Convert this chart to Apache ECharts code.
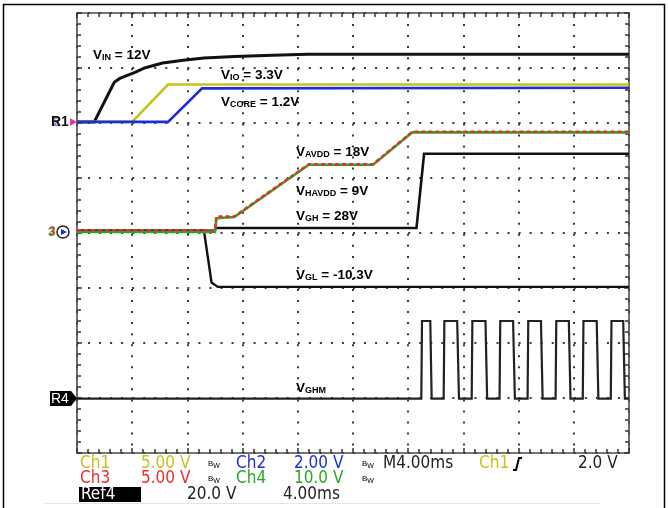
<!DOCTYPE html>
<html><head><meta charset="utf-8">
<script src="https://cdn.jsdelivr.net/npm/echarts@6/dist/echarts.min.js"></script>
<style>html,body{margin:0;padding:0;background:#fff}#c{width:668px;height:508px}</style>
</head><body><div id="c"></div>
<script>
// time in ms (10 div x 4 ms), level in divisions (0..8 from bottom)
const xTicks = [0, 4, 8, 12, 16, 20, 24, 28, 32, 36, 40];
const yTicks = [0, 1, 2, 3, 4, 5, 6, 7, 8];
const vinPts = [[0,6.02],[1.25,6.02],[2.7,6.74],[3.1,6.81],[3.6,6.86],[4.2,6.92],[4.9,7.0],[6.2,7.09],[7.7,7.14],[9.2,7.18],[11.4,7.21],[14.2,7.23],[16.7,7.25],[40,7.25]];
const vioPts = [[0,6.02],[3.99,6.02],[6.6,6.7],[40,6.7]];
const vcorePts = [[0,6.02],[6.6,6.02],[9.06,6.63],[40,6.64]];
const avddPts = [[0,4.02],[10.0,4.02],[10.1,4.27],[11.4,4.29],[16.8,5.24],[21.45,5.24],[24.3,5.83],[40,5.83]];
const havddPts = [[0,4.05],[10.0,4.05],[10.1,4.3],[11.4,4.3],[16.8,5.25],[21.45,5.25],[24.3,5.84],[40,5.84]];
const vghPts = [[0,4.04],[9.9,4.04],[10.1,4.09],[24.6,4.09],[25.15,5.44],[40,5.44]];
const vglPts = [[0,4.04],[9.2,4.04],[9.75,3.1],[10.2,3.02],[40,3.02]];
const vghmLow = 0.99, vghmHigh = 2.4;
const vghmPts = [[0,vghmLow],[24.95,vghmLow],[25.0,vghmHigh],[25.6,vghmHigh],[25.7,vghmLow],
 [26.57,vghmLow],[26.62,vghmHigh],[27.55,vghmHigh],[27.68,vghmLow],
 [28.6,vghmLow],[28.65,vghmHigh],[29.6,vghmHigh],[29.72,vghmLow],
 [30.62,vghmLow],[30.67,vghmHigh],[31.6,vghmHigh],[31.73,vghmLow],
 [32.65,vghmLow],[32.7,vghmHigh],[33.62,vghmHigh],[33.74,vghmLow],
 [34.68,vghmLow],[34.73,vghmHigh],[35.64,vghmHigh],[35.76,vghmLow],
 [36.65,vghmLow],[36.7,vghmHigh],[37.66,vghmHigh],[37.78,vghmLow],
 [38.68,vghmLow],[38.73,vghmHigh],[39.58,vghmHigh],[39.7,vghmLow],[40,vghmLow]];
const traceLabels = [
  {x:93, y:45, t:'{v|V}{s|IN}{v| = 12V}'},
  {x:221, y:65, t:'{v|V}{s|IO}{v| = 3.3V}'},
  {x:221, y:92, t:'{v|V}{s|CORE}{v| = 1.2V}'},
  {x:296, y:142, t:'{v|V}{s|AVDD}{v| = 18V}'},
  {x:296, y:181, t:'{v|V}{s|HAVDD}{v| = 9V}'},
  {x:296, y:206, t:'{v|V}{s|GH}{v| = 28V}'},
  {x:296, y:265, t:'{v|V}{s|GL}{v| = -10.3V}'},
  {x:296, y:378, t:'{v|V}{s|GHM}'}
];
const traceColors = {yellow:'#c8c21a', blue:'#1c2fd6', red:'#ee2b2b', green:'#2aa62a', black:'#111111', dark:'#222222'};
const statusRows = [
  {x:80, y:464, t:'Ch1', c:'yellow'}, {x:141, y:464, t:'5.00 V', c:'yellow'},
  {x:236, y:464, t:'Ch2', c:'blue'}, {x:294, y:464, t:'2.00 V', c:'blue'},
  {x:383, y:464, t:'M4.00ms', c:'dark'}, {x:479, y:464, t:'Ch1', c:'yellow'},
  {x:578, y:464, t:'2.0 V', c:'dark'},
  {x:80, y:479, t:'Ch3', c:'red'}, {x:141, y:479, t:'5.00 V', c:'red'},
  {x:236, y:479, t:'Ch4', c:'green'}, {x:294, y:479, t:'10.0 V', c:'green'},
  {x:187, y:495, t:'20.0 V', c:'dark'}, {x:283, y:495, t:'4.00ms', c:'dark'}
];
const bwMarks = [{x:208,y:464,c:'yellow'},{x:362,y:464,c:'blue'},{x:208,y:479,c:'red'},{x:362,y:479,c:'green'}];

(function(){
  const C = traceColors;
  function gAx(pos, isX, split){
    return {
      type:'value', position:pos, min:0, max:isX?40:8, interval:isX?4:1,
      axisLine:{show:true, onZero:false, lineStyle:{color:'#4a4a4a', width:1.6}},
      axisTick:{show:true, inside:true, length:5, lineStyle:{color:'#333', width:1.5}},
      minorTick:{show:true, splitNumber:5, length:4, lineStyle:{color:'#333', width:1.5}},
      axisLabel:{show:false},
      splitLine:{show:split, lineStyle:{type:[2, 9.04], color:'#3a3a3a', width:2}}
    };
  }
  function tr(data, color, w, dash){
    return {type:'line', data:data, showSymbol:false, symbol:'none', animation:false, z:3,
      lineStyle:{color:color, width:w, type:dash||'solid', join:'miter'}};
  }
  const sub = {fontSize:9, fontWeight:'bold', fontFamily:'Liberation Sans, Arial, sans-serif', color:'#111', verticalAlign:'bottom', padding:[8,0,0,0], lineHeight:9};
  const main = {fontSize:13.5, fontWeight:'bold', fontFamily:'Liberation Sans, Arial, sans-serif', color:'#111', verticalAlign:'top', lineHeight:14};
  const sFont = '"DejaVu Sans Condensed", "Liberation Sans Narrow", "Arial Narrow", sans-serif';
  const g = [];
  traceLabels.forEach(l => g.push({type:'text', left:l.x, top:l.y, z:100, style:{text:l.t, rich:{v:main, s:sub}}}));
  statusRows.forEach(s => g.push({type:'text', x:s.x, y:s.y, z:100, style:{text:s.t, fill:C[s.c], font:'17px ' + sFont, textVerticalAlign:'middle'}}));
  bwMarks.forEach(b => g.push({type:'text', x:b.x, y:b.y, z:100, style:{text:'{b|B}{w|W}', rich:{b:{fontSize:8,color:C[b.c],fontFamily:'Liberation Sans'},w:{fontSize:7,color:C[b.c],fontFamily:'Liberation Sans',verticalAlign:'bottom',padding:[4,0,0,0]}}, textVerticalAlign:'middle'}}));
  g.push({type:'rect', shape:{x:79, y:487, width:62, height:15}, style:{fill:'#000'}, z:99});
  g.push({type:'text', x:81, y:495, z:100, style:{text:'Ref4', fill:'#fff', font:'17px ' + sFont, textVerticalAlign:'middle'}});
  g.push({type:'polyline', shape:{points:[[513,470],[516,470],[519,458],[522,458]]}, style:{stroke:'#000', lineWidth:2, fill:null}, z:100});
  g.push({type:'polyline', shape:{points:[[3.5,508],[3.5,4.5],[664.5,4.5],[664.5,508]]}, style:{stroke:'#000', lineWidth:1.5, fill:null}, z:100});
  g.push({type:'line', shape:{x1:45, y1:503.5, x2:600, y2:503.5}, style:{stroke:'#e4e4e4', lineWidth:1}, z:90});
  g.push({type:'text', x:51, y:122, z:100, style:{text:'R1', fill:'#111', font:'bold 14px Liberation Sans', textVerticalAlign:'middle'}});
  g.push({type:'text', x:53, y:122, z:99, style:{text:'2', fill:C.blue, font:'bold 13px Liberation Sans', textVerticalAlign:'middle', opacity:0.6}});
  g.push({type:'polygon', shape:{points:[[70,118],[77,122],[70,126]]}, style:{fill:'#e0409a'}, z:100});
  g.push({type:'text', x:48, y:232, z:100, style:{text:'3', fill:C.green, font:'bold 13px Liberation Sans', textVerticalAlign:'middle'}});
  g.push({type:'text', x:49, y:232, z:101, style:{text:'3', fill:C.red, font:'bold 12px Liberation Sans', textVerticalAlign:'middle', opacity:0.8}});
  g.push({type:'circle', shape:{cx:63, cy:232, r:6}, style:{fill:'#fff', stroke:'#222', lineWidth:1.5}, z:100});
  g.push({type:'polygon', shape:{points:[[61,229],[67,232],[61,235]]}, style:{fill:C.blue}, z:101});
  g.push({type:'rect', shape:{x:50, y:391, width:21, height:15}, style:{fill:'#000'}, z:100});
  g.push({type:'polygon', shape:{points:[[71,391],[77,398.5],[71,406]]}, style:{fill:'#000'}, z:100});
  g.push({type:'text', x:51, y:399, z:101, style:{text:'R4', fill:'#fff', font:'14px Liberation Sans', textVerticalAlign:'middle'}});

  echarts.init(document.getElementById('c'), null, {renderer:'canvas'}).setOption({
    animation:false, backgroundColor:'#fff',
    grid:{left:77, top:13, width:552, height:440},
    xAxis:[gAx('bottom', true, true), gAx('top', true, false)],
    yAxis:[gAx('left', false, true), gAx('right', false, false)],
    series:[
      tr(vinPts, C.black, 3),
      tr(vglPts, C.black, 2.4),
      tr(vghPts, C.black, 2.6),
      tr(vghmPts, C.dark, 2.2),
      tr(vioPts, C.yellow, 2.6),
      tr(vcorePts, C.blue, 2.6),
      tr(avddPts, C.green, 2.6),
      tr(havddPts, C.red, 2.6, [4,3])
    ],
    graphic:g
  });
})();
</script></body></html>
